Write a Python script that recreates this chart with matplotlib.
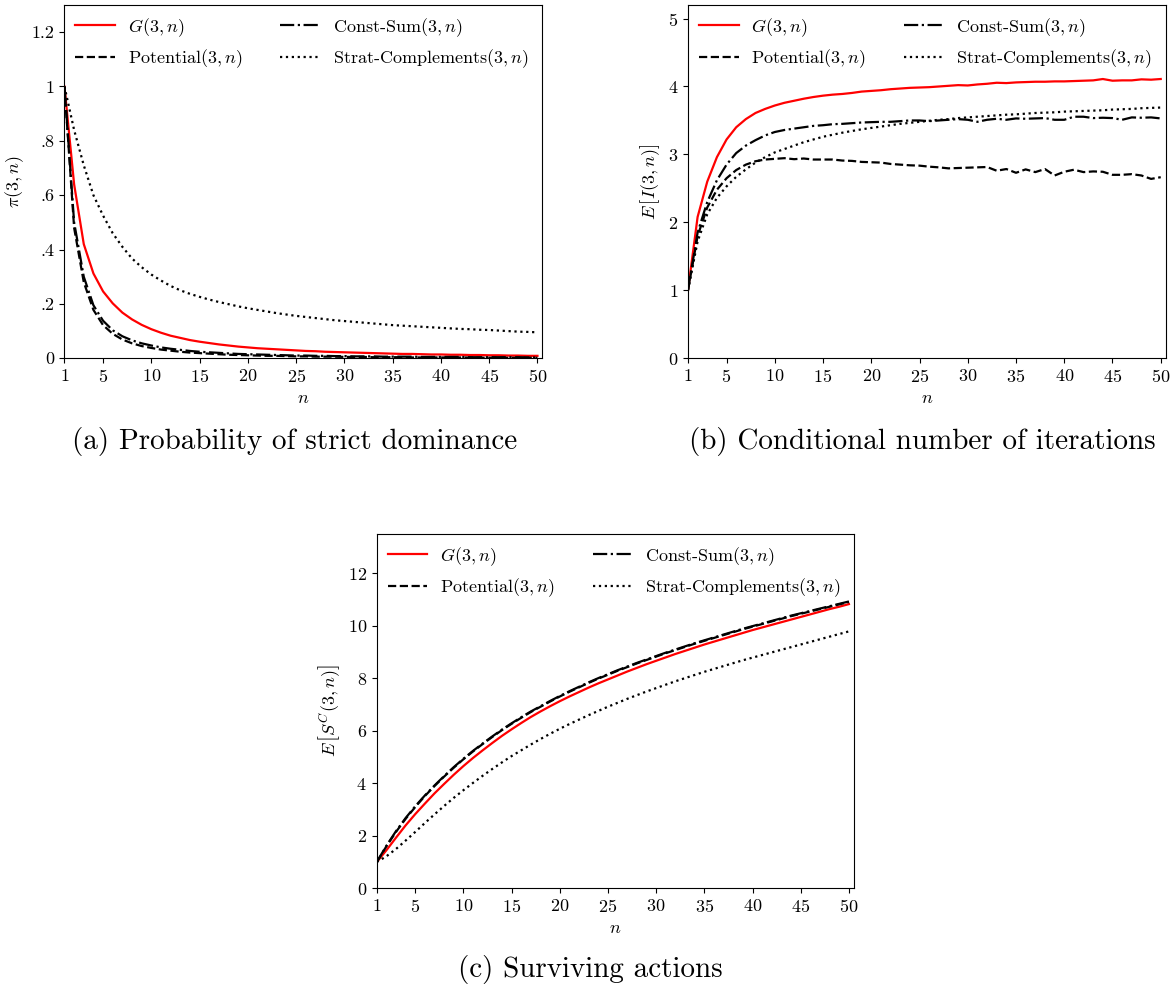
import numpy as np
import matplotlib
matplotlib.use("Agg")
import matplotlib.pyplot as plt

plt.rcParams['font.family'] = 'serif'
plt.rcParams['font.serif'] = ['cmr10']
plt.rcParams['mathtext.fontset'] = 'cm'
plt.rcParams['axes.formatter.use_mathtext'] = True

n = np.arange(1, 51)

labels = [r'$G(3,n)$', r'Potential$(3,n)$', r'Const-Sum$(3,n)$', r'Strat-Complements$(3,n)$']

# (a) probability of strict dominance
a_G = [1.000, 0.640, 0.420, 0.312, 0.246, 0.202, 0.168, 0.143, 0.123, 0.107,
       0.094, 0.083, 0.075, 0.067, 0.061, 0.056, 0.051, 0.047, 0.043, 0.040,
       0.037, 0.035, 0.033, 0.031, 0.029, 0.027, 0.026, 0.024, 0.023, 0.022,
       0.021, 0.020, 0.019, 0.018, 0.017, 0.016, 0.016, 0.015, 0.014, 0.014,
       0.013, 0.013, 0.012, 0.012, 0.011, 0.011, 0.010, 0.010, 0.009, 0.009]
a_pot = [1.000, 0.480, 0.280, 0.178, 0.122, 0.090, 0.069, 0.055, 0.045, 0.038,
         0.032, 0.028, 0.024, 0.021, 0.019, 0.017, 0.015, 0.013, 0.012, 0.011,
         0.010, 0.009, 0.009, 0.008, 0.007, 0.007, 0.006, 0.006, 0.006, 0.005,
         0.005, 0.005, 0.004, 0.004, 0.004, 0.004, 0.003, 0.003, 0.003, 0.003,
         0.003, 0.003, 0.003, 0.002, 0.002, 0.002, 0.002, 0.002, 0.002, 0.002]
a_cs = [1.000, 0.500, 0.300, 0.195, 0.138, 0.103, 0.081, 0.066, 0.055, 0.047,
        0.040, 0.035, 0.031, 0.027, 0.024, 0.022, 0.020, 0.018, 0.016, 0.015,
        0.014, 0.013, 0.012, 0.011, 0.010, 0.010, 0.009, 0.009, 0.008, 0.008,
        0.007, 0.007, 0.007, 0.006, 0.006, 0.006, 0.006, 0.005, 0.005, 0.005,
        0.005, 0.005, 0.004, 0.004, 0.004, 0.004, 0.004, 0.004, 0.003, 0.003]
a_sc = [1.000, 0.840, 0.710, 0.600, 0.525, 0.460, 0.410, 0.367, 0.335, 0.308,
        0.286, 0.266, 0.250, 0.237, 0.226, 0.216, 0.207, 0.199, 0.191, 0.184,
        0.178, 0.172, 0.166, 0.161, 0.156, 0.152, 0.148, 0.144, 0.140, 0.137,
        0.134, 0.131, 0.128, 0.125, 0.122, 0.120, 0.118, 0.116, 0.114, 0.112,
        0.110, 0.108, 0.107, 0.105, 0.104, 0.102, 0.100, 0.098, 0.097, 0.0955]

# (b) conditional number of iterations
b_G = [1.00, 2.08, 2.60, 2.96, 3.22, 3.40, 3.52, 3.61, 3.67, 3.72,
       3.76, 3.79, 3.82, 3.845, 3.865, 3.88, 3.89, 3.905, 3.925, 3.935,
       3.945, 3.96, 3.97, 3.98, 3.985, 3.99, 4.00, 4.01, 4.02, 4.015,
       4.03, 4.04, 4.055, 4.05, 4.06, 4.065, 4.07, 4.07, 4.075, 4.075,
       4.08, 4.085, 4.09, 4.11, 4.085, 4.09, 4.09, 4.105, 4.10, 4.11]
b_pot = [1.00, 1.80, 2.22, 2.48, 2.65, 2.77, 2.85, 2.90, 2.925, 2.935,
         2.945, 2.93, 2.94, 2.925, 2.925, 2.925, 2.91, 2.905, 2.89, 2.885,
         2.88, 2.86, 2.85, 2.84, 2.835, 2.82, 2.81, 2.795, 2.80, 2.805,
         2.81, 2.815, 2.76, 2.785, 2.73, 2.78, 2.74, 2.785, 2.69, 2.745,
         2.775, 2.74, 2.75, 2.745, 2.70, 2.70, 2.71, 2.69, 2.64, 2.665]
b_cs = [1.00, 1.85, 2.30, 2.62, 2.85, 3.02, 3.13, 3.21, 3.28, 3.33,
        3.36, 3.38, 3.40, 3.42, 3.43, 3.445, 3.45, 3.46, 3.47, 3.475,
        3.48, 3.48, 3.49, 3.50, 3.50, 3.49, 3.50, 3.51, 3.52, 3.51,
        3.48, 3.51, 3.525, 3.51, 3.53, 3.525, 3.53, 3.535, 3.51, 3.51,
        3.555, 3.555, 3.535, 3.54, 3.535, 3.51, 3.545, 3.54, 3.545, 3.53]
b_sc = [1.00, 1.72, 2.12, 2.36, 2.53, 2.67, 2.78, 2.88, 2.96, 3.03,
        3.08, 3.13, 3.18, 3.22, 3.26, 3.29, 3.32, 3.345, 3.37, 3.39,
        3.41, 3.43, 3.45, 3.465, 3.48, 3.495, 3.51, 3.52, 3.535, 3.545,
        3.555, 3.565, 3.575, 3.585, 3.59, 3.60, 3.61, 3.615, 3.62, 3.63,
        3.635, 3.64, 3.645, 3.65, 3.66, 3.665, 3.67, 3.68, 3.685, 3.69]

# (c) surviving actions
c_G = [1.00, 1.45, 1.93, 2.40, 2.83, 3.23, 3.62, 3.98, 4.33, 4.66,
       4.97, 5.26, 5.54, 5.81, 6.06, 6.30, 6.53, 6.74, 6.94, 7.13,
       7.31, 7.48, 7.65, 7.81, 7.96, 8.11, 8.26, 8.40, 8.54, 8.67,
       8.80, 8.93, 9.05, 9.17, 9.29, 9.40, 9.51, 9.62, 9.73, 9.84,
       9.94, 10.04, 10.14, 10.24, 10.34, 10.44, 10.54, 10.64, 10.73, 10.83]
c_pot = [1.00, 1.60, 2.15, 2.65, 3.10, 3.52, 3.90, 4.26, 4.60, 4.92,
         5.22, 5.50, 5.77, 6.03, 6.27, 6.50, 6.72, 6.92, 7.12, 7.31,
         7.49, 7.66, 7.83, 7.99, 8.14, 8.29, 8.43, 8.57, 8.70, 8.83,
         8.96, 9.08, 9.20, 9.32, 9.43, 9.54, 9.65, 9.76, 9.87, 9.97,
         10.07, 10.17, 10.27, 10.37, 10.46, 10.55, 10.64, 10.73, 10.82, 10.91]
c_cs = [1.00, 1.62, 2.18, 2.68, 3.13, 3.54, 3.92, 4.28, 4.62, 4.94,
        5.24, 5.52, 5.79, 6.05, 6.29, 6.52, 6.74, 6.94, 7.14, 7.33,
        7.51, 7.68, 7.85, 8.01, 8.16, 8.31, 8.45, 8.59, 8.72, 8.85,
        8.98, 9.10, 9.22, 9.34, 9.45, 9.56, 9.67, 9.78, 9.89, 9.99,
        10.09, 10.19, 10.29, 10.39, 10.48, 10.57, 10.66, 10.75, 10.84, 10.93]
c_sc = [1.00, 1.22, 1.50, 1.82, 2.15, 2.49, 2.82, 3.14, 3.45, 3.74,
        4.02, 4.29, 4.55, 4.80, 5.04, 5.26, 5.48, 5.69, 5.89, 6.08,
        6.26, 6.43, 6.60, 6.76, 6.92, 7.07, 7.22, 7.36, 7.50, 7.63,
        7.76, 7.89, 8.01, 8.13, 8.25, 8.36, 8.47, 8.58, 8.69, 8.79,
        8.89, 8.99, 9.09, 9.19, 9.29, 9.39, 9.49, 9.59, 9.69, 9.79]

xticks = [1, 5, 10, 15, 20, 25, 30, 35, 40, 45, 50]


def panel(ax, g, pot, cs, sc, ylab, ymax):
    ax.plot(n, g, color='red', lw=1.6, label=labels[0])
    ax.plot(n, pot, color='black', lw=1.6, ls='--', label=labels[1])
    ax.plot(n, cs, color='black', lw=1.6, ls='-.', label=labels[2])
    ax.plot(n, sc, color='black', lw=1.6, ls=':', label=labels[3])
    ax.set_xlim(1, 50.5)
    ax.set_ylim(0, ymax)
    ax.set_xticks(xticks)
    ax.set_xlabel(r'$n$', fontsize=13)
    ax.set_ylabel(ylab, fontsize=13)
    ax.tick_params(labelsize=13)
    ax.legend(ncol=2, loc='upper left', frameon=False, fontsize=13,
              handlelength=2.2, handletextpad=0.7, columnspacing=2.1,
              borderaxespad=0.2, labelspacing=0.5)


fig = plt.figure(figsize=(11.7, 9.9), dpi=100)
ax1 = fig.add_axes([0.0551, 0.6381, 0.4084, 0.3569])
ax2 = fig.add_axes([0.5880, 0.6381, 0.4082, 0.3569])
ax3 = fig.add_axes([0.3220, 0.1027, 0.4077, 0.3579])

panel(ax1, a_G, a_pot, a_cs, a_sc, r'$\pi(3,n)$', 1.3)
ax1.set_yticks([0, 0.2, 0.4, 0.6, 0.8, 1.0, 1.2])
ax1.set_yticklabels(['0', '.2', '.4', '.6', '.8', '1', '1.2'])

panel(ax2, b_G, b_pot, b_cs, b_sc, r'$E\,\left[I(3,n)\right]$', 5.2)
ax2.set_yticks([0, 1, 2, 3, 4, 5])

panel(ax3, c_G, c_pot, c_cs, c_sc, r'$E\,\left[S^C(3,n)\right]$', 13.5)
ax3.set_yticks([0, 2, 4, 6, 8, 10, 12])

fig.text(295 / 1170, 1 - 442 / 990, '(a) Probability of strict dominance',
         ha='center', va='center', fontsize=21)
fig.text(922 / 1170, 1 - 442 / 990, '(b) Conditional number of iterations',
         ha='center', va='center', fontsize=21)
fig.text(590 / 1170, 1 - 970 / 990, '(c) Surviving actions',
         ha='center', va='center', fontsize=21)

fig.savefig('out.png', dpi=100)
